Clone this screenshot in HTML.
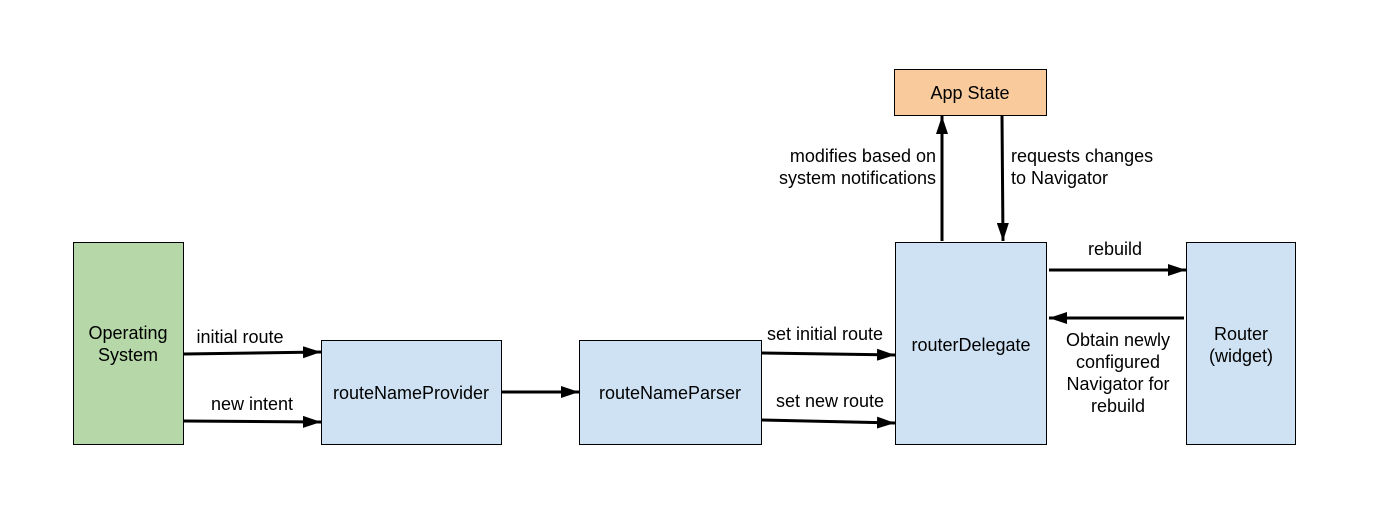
<!DOCTYPE html>
<html><head><style>body{margin:0;background:#fff}</style></head><body>
<svg width="1400" height="514" xmlns="http://www.w3.org/2000/svg" font-family="Liberation Sans, Arial, sans-serif" font-size="18" fill="#000">
<defs>
<marker id="b" viewBox="0 0 18 12" markerWidth="18" markerHeight="12" refX="18" refY="6" orient="auto" markerUnits="userSpaceOnUse"><path d="M0,0 L18,6 L0,12 z" fill="#000"/></marker></defs>
<g stroke="#000" stroke-width="1">
<rect x="73.5" y="242.5" width="110" height="202" fill="#b6d7a8"/>
<rect x="321.5" y="340.5" width="180" height="104" fill="#cfe2f3"/>
<rect x="579.5" y="340.5" width="182" height="104" fill="#cfe2f3"/>
<rect x="895.5" y="242.5" width="151" height="202" fill="#cfe2f3"/>
<rect x="1186.5" y="242.5" width="109" height="202" fill="#cfe2f3"/>
<rect x="894.5" y="69.5" width="152" height="46" fill="#f9cb9c"/>
</g>
<g stroke="#000" stroke-width="3" marker-end="url(#b)">
<line x1="184" y1="354" x2="321" y2="352"/>
<line x1="184" y1="421" x2="321" y2="422"/>
<line x1="502" y1="392" x2="579" y2="392"/>
<line x1="762" y1="353" x2="895" y2="355"/>
<line x1="762" y1="420" x2="895" y2="423"/>
<line x1="942" y1="241" x2="942" y2="116"/>
<line x1="1002" y1="116" x2="1003" y2="241"/>
<line x1="1049" y1="270" x2="1186" y2="270"/>
<line x1="1184" y1="318" x2="1049" y2="318"/>
</g>
<g text-anchor="middle">
<text x="128" y="339">Operating</text><text x="128" y="361">System</text>
<text x="411" y="399">routeNameProvider</text>
<text x="670" y="399">routeNameParser</text>
<text x="971" y="351">routerDelegate</text>
<text x="1241" y="340">Router</text><text x="1241" y="362">(widget)</text>
<text x="970" y="99">App State</text>
<text x="240" y="343">initial route</text>
<text x="252" y="410">new intent</text>
<text x="825" y="340">set initial route</text>
<text x="830" y="407">set new route</text>
<text x="1115" y="255">rebuild</text>
<text x="1118" y="346">Obtain newly</text><text x="1118" y="368">configured</text><text x="1118" y="390">Navigator for</text><text x="1118" y="412">rebuild</text>
</g>
<text x="936" y="162" text-anchor="end">modifies based on</text>
<text x="936" y="184" text-anchor="end">system notifications</text>
<text x="1011" y="162">requests changes</text>
<text x="1011" y="184">to Navigator</text>
</svg>
</body></html>
